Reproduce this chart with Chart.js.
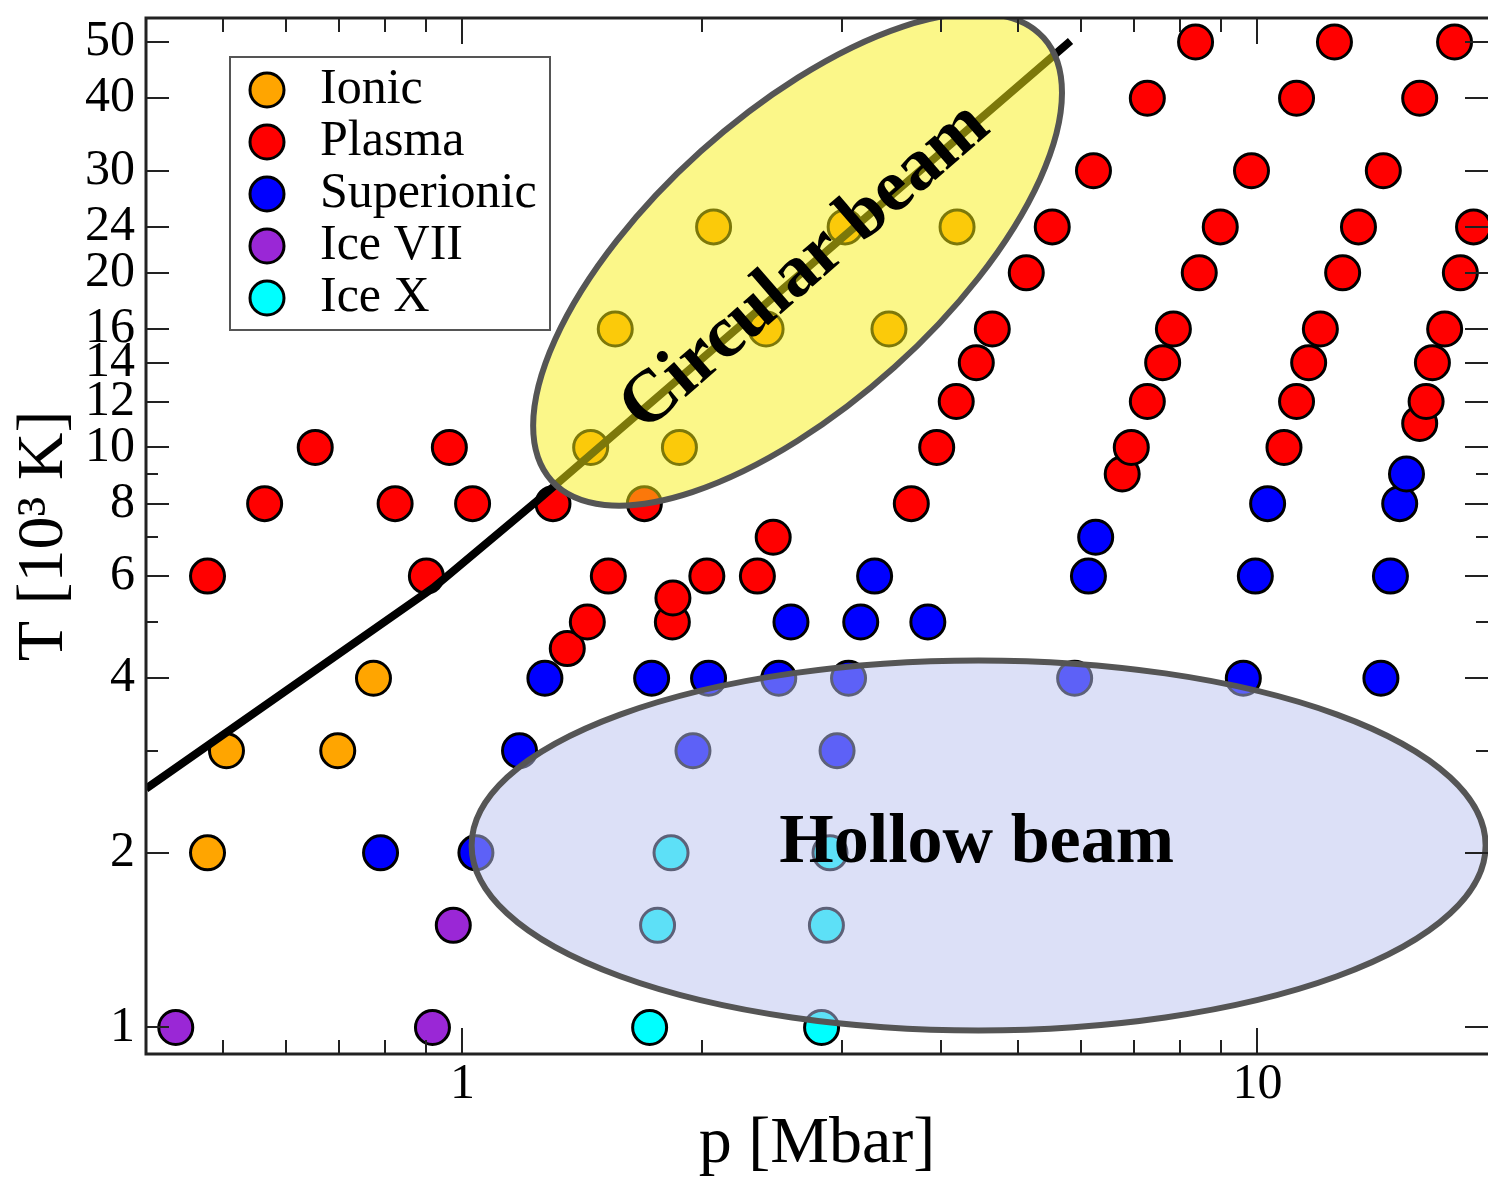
<!DOCTYPE html>
<html>
<head>
<meta charset="utf-8">
<script src="https://cdn.jsdelivr.net/npm/chart.js@4.4.1/dist/chart.umd.min.js"></script>
<style>
  html, body { margin: 0; padding: 0; overflow: hidden; background: #fff; }
  canvas { display: block; }
</style>
</head>
<body>
<canvas id="myChart" width="1488" height="1181"></canvas>
<script>
// Phase points: p in Mbar, T in 10^3 K
var ionicP = [0.478, 0.505, 0.697, 0.773, 1.45, 1.875, 1.557, 2.41, 3.44, 2.07, 3.03, 4.19];
var ionicT = [2, 3, 3, 4, 10, 10, 16, 16, 16, 24, 24, 24];

var plasmaP = [0.478, 0.564, 0.653, 0.823, 0.901, 0.963, 1.03, 1.30, 1.694, 1.355, 1.436, 1.526, 1.837, 1.84, 2.03, 2.35, 2.46,
  3.67, 3.95, 4.18, 4.43, 4.64, 5.12, 5.52, 6.22, 7.27, 8.36,
  6.76, 6.94, 7.27, 7.60, 7.84, 8.45, 8.98, 9.83, 11.2, 12.5,
  10.8, 11.2, 11.6, 12.0, 12.8, 13.4, 14.4, 16.0, 17.7,
  16.0, 16.3, 16.6, 17.2, 18.0, 18.7];
var plasmaT = [6, 8, 10, 8, 6, 10, 8, 8, 8, 4.5, 5, 6, 5, 5.5, 6, 6, 7,
  8, 10, 12, 14, 16, 20, 24, 30, 40, 50,
  9, 10, 12, 14, 16, 20, 24, 30, 40, 50,
  10, 12, 14, 16, 20, 24, 30, 40, 50,
  11, 12, 14, 16, 20, 24];

var superionicP = [0.789, 1.04, 1.18, 1.95, 2.96, 1.27, 1.73, 2.04, 2.50, 3.06, 5.89, 9.6, 14.3,
  2.59, 3.17, 3.85, 3.30, 6.13, 9.94, 14.7, 6.26, 10.3, 15.1, 15.4];
var superionicT = [2, 2, 3, 3, 3, 4, 4, 4, 4, 4, 4, 4, 4,
  5, 5, 5, 6, 6, 6, 6, 7, 8, 8, 9];

var iceViiP = [0.436, 0.917, 0.974];
var iceViiT = [1, 1, 1.5];

var iceXP = [1.72, 2.83, 1.76, 2.87, 1.83, 2.90];
var iceXT = [1, 1, 1.5, 1.5, 2, 2];

// melting / boundary line
var boundaryP = [0.4, 0.919, 1.243, 5.82];
var boundaryT = [2.58, 5.73, 8.10, 50.2];

// axis ticks
var xTickValues = [0.5, 0.6, 0.7, 0.8, 0.9, 1, 2, 3, 4, 5, 6, 7, 8, 9, 10];
var xTickLabels = ['', '', '', '', '', '1', '', '', '', '', '', '', '', '', '10'];
var yTickValues = [1, 2, 3, 4, 5, 6, 7, 8, 9, 10, 12, 14, 16, 20, 24, 30, 40, 50];
var yTickLabels = ['1', '2', '', '4', '', '6', '', '8', '', '10', '12', '14', '16', '20', '24', '30', '40', '50'];

var serif = '"Liberation Serif", "Times New Roman", serif';

function toPoints(px, py) {
  return px.map(function (p, i) { return { x: p, y: py[i] }; });
}

function phaseSet(label, px, py, color) {
  return {
    label: label,
    data: toPoints(px, py),
    backgroundColor: color,
    borderColor: '#000',
    pointRadius: 17,
    pointBorderWidth: 3,
    pointHoverRadius: 17,
    order: 1
  };
}

// shaded beam regions (centre in data units, radii in pixels)
var beams = [
  { p: 2.64, T: 21.1, rx: 331, ry: 145, angle: -42, fill: 'rgba(248,240,20,0.5)',
    text: 'Circular beam', textAngle: -41, dx: 8, dy: 8, font: 'bold 74px ' + serif, baseline: 'middle' },
  { p: 4.46, T: 2.06, rx: 507, ry: 185, angle: 0, fill: 'rgba(185,193,240,0.5)',
    text: 'Hollow beam', textAngle: 0, dx: -2, dy: 17, font: 'bold 70px ' + serif, baseline: 'alphabetic' }
];

// chart.js reserves room for end labels; the frame here is fixed instead
function noPadding(scale) {
  scale.paddingTop = 0;
  scale.paddingBottom = 0;
  scale.paddingLeft = 0;
  scale.paddingRight = 0;
}

var decorPlugin = {
  id: 'decor',
  afterDatasetsDraw: function (chart) {
    var c = chart.ctx, a = chart.chartArea;
    var xs = chart.scales.x, ys = chart.scales.y;
    c.save();
    c.beginPath();
    c.rect(a.left, a.top, a.right - a.left, a.bottom - a.top);
    c.clip();
    beams.forEach(function (b) {
      var cx = xs.getPixelForValue(b.p), cy = ys.getPixelForValue(b.T);
      c.beginPath();
      c.ellipse(cx, cy, b.rx, b.ry, b.angle * Math.PI / 180, 0, Math.PI * 2);
      c.fillStyle = b.fill;
      c.fill();
      c.lineWidth = 6;
      c.strokeStyle = '#555';
      c.stroke();
    });
    beams.forEach(function (b) {
      var cx = xs.getPixelForValue(b.p), cy = ys.getPixelForValue(b.T);
      c.save();
      c.translate(cx + b.dx, cy + b.dy);
      c.rotate(b.textAngle * Math.PI / 180);
      c.font = b.font;
      c.fillStyle = '#000';
      c.textAlign = 'center';
      c.textBaseline = b.baseline;
      c.fillText(b.text, 0, 0);
      c.restore();
    });
    c.restore();
  },
  afterDraw: function (chart) {
    var c = chart.ctx, a = chart.chartArea;
    var xs = chart.scales.x, ys = chart.scales.y;
    c.save();
    c.strokeStyle = '#222';
    c.lineWidth = 2;
    c.beginPath();
    yTickValues.forEach(function (v, i) {
      var y = Math.round(ys.getPixelForValue(v));
      var len = yTickLabels[i] ? 23 : 12;
      c.moveTo(a.left, y); c.lineTo(a.left + len, y);
      c.moveTo(a.right, y); c.lineTo(a.right - len, y);
    });
    xTickValues.forEach(function (v, i) {
      var x = Math.round(xs.getPixelForValue(v));
      var len = xTickLabels[i] ? 26 : 14;
      c.moveTo(x, a.bottom); c.lineTo(x, a.bottom - len);
      c.moveTo(x, a.top); c.lineTo(x, a.top + len);
    });
    c.stroke();
    // frame: the right side falls off the picture
    c.lineWidth = 3;
    c.beginPath();
    c.moveTo(a.right + 2, a.top);
    c.lineTo(a.left, a.top);
    c.lineTo(a.left, a.bottom);
    c.lineTo(a.right + 2, a.bottom);
    c.stroke();

    // legend box
    var bx = a.left + 84, by = a.top + 39, bw = 320, bh = 273;
    c.fillStyle = '#fff';
    c.fillRect(bx, by, bw, bh);
    c.lineWidth = 2;
    c.strokeStyle = '#555';
    c.strokeRect(bx, by, bw, bh);
    var sets = chart.data.datasets.filter(function (d) { return d.order === 1; });
    sets.forEach(function (d, i) {
      var my = by + 33 + i * 52;
      c.beginPath();
      c.arc(bx + 37, my, 17, 0, Math.PI * 2);
      c.fillStyle = d.backgroundColor;
      c.fill();
      c.lineWidth = 3;
      c.strokeStyle = '#000';
      c.stroke();
      c.fillStyle = '#000';
      c.font = '50px ' + serif;
      c.textAlign = 'left';
      c.textBaseline = 'middle';
      c.fillText(d.label, bx + 90, my);
    });
    c.restore();
  }
};

var ctx = document.getElementById('myChart').getContext('2d');

var myChart = new Chart(ctx, {
  type: 'scatter',
  data: {
    datasets: [
      {
        label: 'boundary',
        data: toPoints(boundaryP, boundaryT),
        showLine: true,
        borderColor: '#000',
        borderWidth: 8,
        pointRadius: 0,
        pointHoverRadius: 0,
        fill: false,
        order: 0
      },
      phaseSet('Ionic', ionicP, ionicT, '#FFA500'),
      phaseSet('Plasma', plasmaP, plasmaT, '#FF0000'),
      phaseSet('Superionic', superionicP, superionicT, '#0000FF'),
      phaseSet('Ice VII', iceViiP, iceViiT, '#9A27D6'),
      phaseSet('Ice X', iceXP, iceXT, '#00FFFF')
    ]
  },
  options: {
    responsive: false,
    animation: false,
    devicePixelRatio: 1,
    layout: { autoPadding: false, padding: { top: 18, right: 0, left: 0, bottom: 0 } },
    plugins: {
      legend: { display: false },
      tooltip: { enabled: false }
    },
    scales: {
      x: {
        type: 'logarithmic',
        min: 0.4,
        max: 19.5,
        afterBuildTicks: function (scale) {
          scale.ticks = xTickValues.map(function (v) { return { value: v }; });
        },
        afterFit: function (scale) { scale.height = 127; noPadding(scale); },
        ticks: {
          autoSkip: false,
          maxRotation: 0,
          padding: 1,
          color: '#000',
          font: { family: serif, size: 50, lineHeight: 1.2 },
          callback: function (value) {
            return xTickLabels[xTickValues.indexOf(value)] || '';
          }
        },
        grid: { display: false, drawTicks: false },
        border: { display: false },
        title: {
          display: true,
          text: 'p [Mbar]',
          color: '#000',
          font: { family: serif, size: 66, lineHeight: 1 },
          padding: { top: 0, bottom: 3 }
        }
      },
      y: {
        type: 'logarithmic',
        min: 0.9,
        max: 55,
        afterBuildTicks: function (scale) {
          scale.ticks = yTickValues.map(function (v) { return { value: v }; });
        },
        afterFit: function (scale) { scale.width = 146; noPadding(scale); },
        ticks: {
          autoSkip: false,
          padding: 11,
          color: '#000',
          font: { family: serif, size: 50, lineHeight: 1.2 },
          callback: function (value) {
            return yTickLabels[yTickValues.indexOf(value)] || '';
          }
        },
        grid: { display: false, drawTicks: false },
        border: { display: false },
        title: {
          display: true,
          text: 'T [10³ K]',
          color: '#000',
          font: { family: serif, size: 66, lineHeight: 1 },
          padding: { top: 12, bottom: 0 }
        }
      }
    }
  },
  plugins: [decorPlugin]
});
</script>
</body>
</html>
